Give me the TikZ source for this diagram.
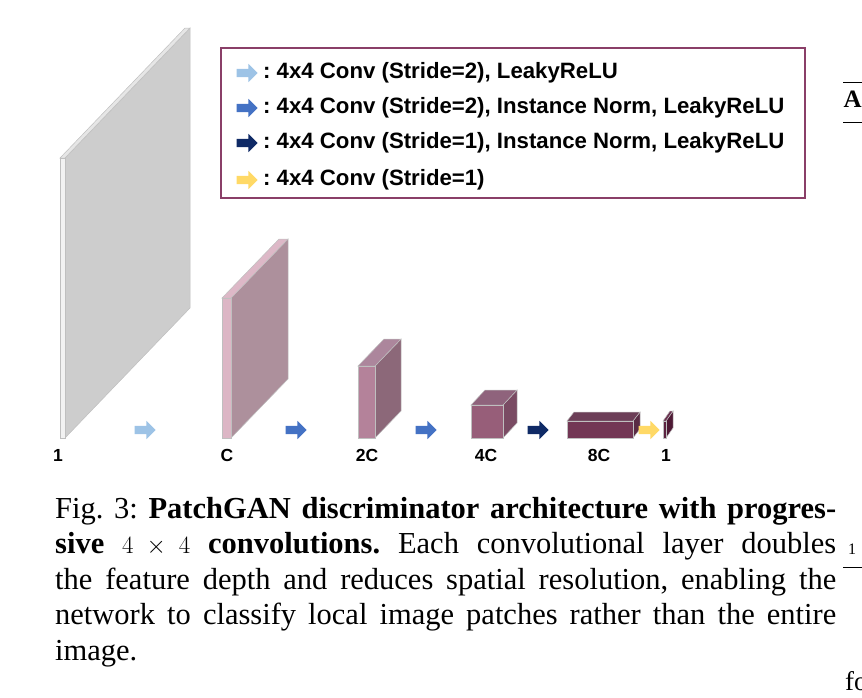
\documentclass[tikz,border=0pt]{standalone}
\usepackage{fontspec}
\setmainfont{Liberation Serif}
\setsansfont{Liberation Sans}
\usetikzlibrary{shapes.arrows}

\definecolor{boxc}{HTML}{8A3F68}
\definecolor{lblue}{HTML}{9DC3E6}
\definecolor{mblue}{HTML}{4472C4}
\definecolor{dblue}{HTML}{0F2A66}
\definecolor{yell}{HTML}{FFD966}
% faces of the layers: front / top / side
\definecolor{frontin}{HTML}{F2F2F2}\definecolor{topin}{HTML}{E6E6E6}\definecolor{sidein}{HTML}{CDCDCD}
\definecolor{frontca}{HTML}{DCB6C5}\definecolor{topca}{HTML}{DDB8C7}\definecolor{sideca}{HTML}{AD909C}
\definecolor{frontcb}{HTML}{B4829A}\definecolor{topcb}{HTML}{AC869C}\definecolor{sidecb}{HTML}{8C6879}
\definecolor{frontcc}{HTML}{975E79}\definecolor{topcc}{HTML}{8F637C}\definecolor{sidecc}{HTML}{7A4B63}
\definecolor{frontcd}{HTML}{723654}\definecolor{topcd}{HTML}{6C3E57}\definecolor{sidecd}{HTML}{5A2B44}
\definecolor{frontout}{HTML}{5C2240}\definecolor{topout}{HTML}{6A3050}\definecolor{sideout}{HTML}{4E1A35}

\tikzset{
  slabline/.style={draw=black!25, line width=0.5pt},
  fat/.style={single arrow, draw=none, minimum height=21pt, inner sep=4pt,
              single arrow head extend=5pt},
  lbl/.style={font=\sffamily\bfseries\fontsize{17.5}{20}\selectfont},
  keytext/.style={font=\sffamily\bfseries\fontsize{22.2}{26}\selectfont, anchor=west, inner sep=0pt},
  capt/.style={font=\fontsize{30.5}{35.5}\selectfont, anchor=north west, inner sep=0pt},
}

% layer: name, x, y (bottom), width, height, depth dx, depth dy
\newcommand{\slab}[7]{%
  \coordinate (#1) at (#2,#3);
  \filldraw[slabline, fill=side#1] (#2+#4,#3) -- ++(#6,-#7) -- ++(0,-#5) -- ++(-#6,#7) -- cycle;
  \filldraw[slabline, fill=top#1] (#2,#3-#5) -- ++(#4,0) -- ++(#6,-#7) -- ++(-#4,0) -- cycle;
  \filldraw[slabline, fill=front#1] (#2,#3) rectangle ++(#4,-#5);
}

\begin{document}
\frenchspacing
\begin{tikzpicture}[x=1pt,y=-1pt]
  \useasboundingbox (0,0) rectangle (862,697);

  % layers
  \slab{in}{60}{438}{5}{280}{125}{130}
  \slab{ca}{222}{438}{9}{140}{57}{59}
  \slab{cb}{358}{438}{17}{72}{26}{27}
  \slab{cc}{471}{438}{32}{33}{14}{15}
  \slab{cd}{567}{438}{66}{17}{7}{9}
  \slab{out}{663}{438}{3}{17}{7}{10}

  % channel labels
  \foreach \n/\x/\t in {l1/58/1, l2/227/C, l3/367/2C, l4/486/4C, l5/599/8C, l6/666/1}
    \node[lbl] (\n) at (\x,455) {\t};

  % arrows between layers
  \foreach \n/\x/\c in {a1/143/lblue, a2/294/mblue, a3/424/mblue, a4/536/dblue, a5/647/yell}
    \node[fat, fill=\c] (\n) at (\x,430) {};

  % legend
  \node[draw=boxc, line width=2.2pt, minimum width=584pt, minimum height=150pt] (leg) at (513,123) {};
  \foreach \n/\y/\c/\t in {k1/73/lblue/{: 4x4 Conv (Stride=2), LeakyReLU},
      k2/108/mblue/{: 4x4 Conv (Stride=2), Instance Norm, LeakyReLU},
      k3/143/dblue/{: 4x4 Conv (Stride=1), Instance Norm, LeakyReLU},
      k4/180/yell/{: 4x4 Conv (Stride=1)}}
  {
    \node[fat, fill=\c] (\n) at (245,\y) {};
    \node[keytext] (t\n) at (263,\y) {\t};
  }

  % caption
  \node[capt] (cap) at (55,497) {\parbox{781pt}{Fig. 3: \textbf{PatchGAN discriminator architecture with progres-\linebreak
    sive} $4\times4$ \textbf{convolutions.} Each convolutional layer doubles\linebreak
    the feature depth and reduces spatial resolution, enabling the\linebreak
    network to classify local image patches rather than the entire\linebreak
    image.}};

  % cut edge of the next column
  \begin{scope}
    \clip (0,0) rectangle (862,697);
    \node[font=\bfseries\fontsize{25}{28}\selectfont, anchor=base west, inner sep=0pt] (pa) at (843.5,107) {A};
    \draw[line width=1pt] (843,82) -- (862,82);
    \draw[line width=0.6pt] (843,122) -- (862,122);
    \node[font=\fontsize{16}{18}\selectfont, anchor=base west, inner sep=0pt] (pb) at (848,554) {1};
    \draw[line width=0.6pt] (843,567) -- (862,567);
    \node[font=\fontsize{27}{30}\selectfont, anchor=base west, inner sep=0pt] (pc) at (845,690) {fo};
  \end{scope}
\end{tikzpicture}
\end{document}
